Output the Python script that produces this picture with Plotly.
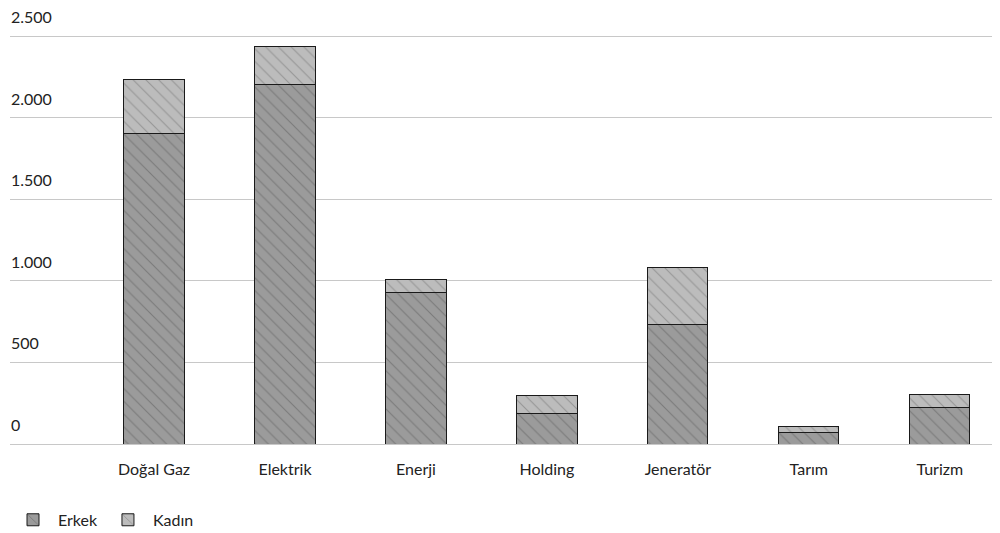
import plotly.graph_objects as go

# data
sectors = ["Doğal Gaz", "Elektrik", "Enerji", "Holding", "Jeneratör", "Tarım", "Turizm"]
erkek = [1906, 2206, 931, 190, 733, 69, 221]
kadin = [331, 233, 80, 106, 347, 37, 85]

y_ticks = [0, 500, 1000, 1500, 2000, 2500]
y_tick_text = ["0", "500", "1.000", "1.500", "2.000", "2.500"]

FONT = "Lato, 'Open Sans', sans-serif"

fig = go.Figure()

fig.add_trace(go.Bar(
    name="Erkek",
    x=sectors,
    y=erkek,
    width=0.46,
    marker=dict(
        color="#9b9b9b",
        line=dict(color="#1a1a1a", width=1),
        pattern=dict(shape="\\", fgcolor="#7a7a7a", bgcolor="#9b9b9b",
                     size=9, solidity=0.12, fillmode="replace"),
    ),
))

fig.add_trace(go.Bar(
    name="Kadın",
    x=sectors,
    y=kadin,
    width=0.46,
    marker=dict(
        color="#bcbcbc",
        line=dict(color="#1a1a1a", width=1),
        pattern=dict(shape="\\", fgcolor="#969696", bgcolor="#bcbcbc",
                     size=9, solidity=0.12, fillmode="replace"),
    ),
))

# y tick labels sit above the gridlines, left aligned
for val, txt in zip(y_ticks, y_tick_text):
    fig.add_annotation(
        x=0, xref="paper", xanchor="left",
        y=val, yref="y", yanchor="bottom", yshift=9,
        text=txt, showarrow=False, borderpad=0,
        font=dict(family=FONT, size=16, color="#222"),
    )

# page body adds an 8px offset, so the figure is sized to the visible area
fig.update_layout(
    barmode="stack",
    width=992,
    height=525,
    margin=dict(l=2, r=0, t=25, b=89, autoexpand=False),
    paper_bgcolor="white",
    plot_bgcolor="white",
    font=dict(family=FONT, size=16, color="#222"),
    showlegend=True,
    legend=dict(
        orientation="h",
        xref="container", x=0, xanchor="left",
        yref="container", y=0.025, yanchor="middle",
        font=dict(family=FONT, size=16, color="#222"),
        itemwidth=40,
        traceorder="normal",
    ),
    xaxis=dict(
        range=[-1.1, 6.46],
        showgrid=False,
        showline=False,
        zeroline=False,
        ticks="",
        ticklabelstandoff=14,
        tickfont=dict(family=FONT, size=16, color="#222"),
    ),
    yaxis=dict(
        range=[0, 2520],
        tickvals=y_ticks,
        showticklabels=False,
        gridcolor="#c8c8c8",
        gridwidth=1,
        zeroline=True,
        zerolinecolor="#c8c8c8",
        zerolinewidth=1,
        showline=False,
    ),
)

fig.write_html("out.html")
